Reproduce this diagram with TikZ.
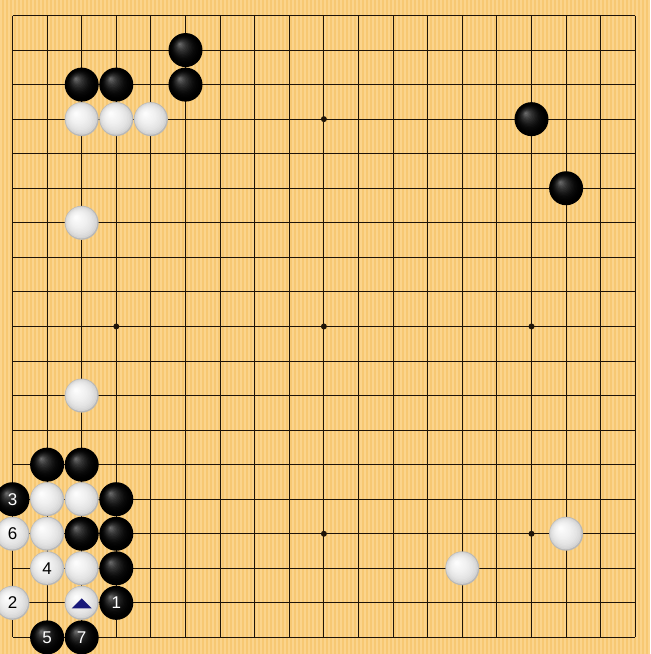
\documentclass[tikz,border=0pt]{standalone}
\usepackage{fontspec}
\setsansfont{Liberation Sans}
\definecolor{boardbg}{HTML}{F7C873}
\definecolor{boardstripe}{HTML}{FBD48C}
\definecolor{gridcol}{HTML}{1E1408}
\definecolor{markcol}{HTML}{1A1A7A}
\tikzset{
  stripe/.style={draw=boardstripe, line width=1.6pt},
  gridline/.style={draw=gridcol, line width=1pt},
  starpt/.style={fill=gridcol},
  stone/.style={circle, minimum size=34pt, inner sep=0pt, font=\sffamily\fontsize{17}{17}\selectfont},
  bstone/.style={stone, text=white},
  wstone/.style={stone, text=black},
  tri/.style={fill=markcol}
}
% layered gradient helpers: percentage of white for layer t in [0,1]
\newcommand\bpct[1]{48*(#1)^2.2}
\newcommand\wpct[1]{72+28*(#1)^0.35}
\newcommand\gostone[5]{% #1 b/w, #2 name, #3 x, #4 y, #5 label
  \foreach \k in {0,...,15} {
    \pgfmathsetmacro\tt{\k/16}
    \pgfmathsetmacro\rr{17*(1-\tt)}
    \pgfmathsetmacro\oo{6*\tt}
    \pgfmathsetmacro\pp{\csname #1pct\endcsname{\tt}}
    \fill[color=white!\pp!black] (#3,#4) ++(-\oo pt,\oo pt) circle[radius=\rr pt];
  }
  \node[#1stone] (#2) at (#3,#4) {#5};
}
\begin{document}
\begin{tikzpicture}
% background in pixel units
\begin{scope}[x=1pt,y=-1pt]
  \useasboundingbox (0,0) rectangle (650,654);
  \clip (0,0) rectangle (650,654);
  \fill[boardbg] (0,0) rectangle (650,654);
  \foreach \s in {1,5,...,649} \draw[stripe] (\s,0) -- (\s,654);
\end{scope}
\begin{scope}[shift={(12.5pt,-15.5pt)}, x=34.6pt, y=-34.55pt]
  \clip (-0.3613,-0.4486) rectangle (18.43,18.480);
  \foreach \i in {0,...,18} {
    \draw[gridline] (\i,0) -- (\i,18);
    \draw[gridline] (0,\i) -- (18,\i);
  }
  \foreach \a/\b in {3/3,9/3,15/3,3/9,9/9,15/9,3/15,9/15,15/15}
    \fill[starpt] (\a,\b) circle[radius=3pt];
  % top left
  \gostone{b}{b51}{5}{1}{}
  \gostone{b}{b52}{5}{2}{}
  \gostone{b}{b22}{2}{2}{}
  \gostone{b}{b32}{3}{2}{}
  \gostone{w}{w23}{2}{3}{}
  \gostone{w}{w33}{3}{3}{}
  \gostone{w}{w43}{4}{3}{}
  % top right
  \gostone{b}{b153}{15}{3}{}
  \gostone{b}{b165}{16}{5}{}
  % left side
  \gostone{w}{w26}{2}{6}{}
  \gostone{w}{w211}{2}{11}{}
  % bottom right
  \gostone{w}{w1615}{16}{15}{}
  \gostone{w}{w1316}{13}{16}{}
  % bottom left
  \gostone{b}{b113}{1}{13}{}
  \gostone{b}{b213}{2}{13}{}
  \gostone{b}{m3}{0}{14}{3}
  \gostone{w}{w114}{1}{14}{}
  \gostone{w}{w214}{2}{14}{}
  \gostone{b}{b314}{3}{14}{}
  \gostone{w}{m6}{0}{15}{6}
  \gostone{w}{w115}{1}{15}{}
  \gostone{b}{b215}{2}{15}{}
  \gostone{b}{b315}{3}{15}{}
  \gostone{w}{m4}{1}{16}{4}
  \gostone{w}{w216}{2}{16}{}
  \gostone{b}{b316}{3}{16}{}
  \gostone{w}{m2}{0}{17}{2}
  \gostone{w}{w217}{2}{17}{}
  \gostone{b}{m1}{3}{17}{1}
  \gostone{b}{m5}{1}{18}{5}
  \gostone{b}{m7}{2}{18}{7}
  \fill[tri] ([shift={(-10pt,-5.5pt)}]w217.center) -- ([shift={(10pt,-5.5pt)}]w217.center) -- ([shift={(0pt,4.5pt)}]w217.center) -- cycle;
\end{scope}
\end{tikzpicture}
\end{document}
